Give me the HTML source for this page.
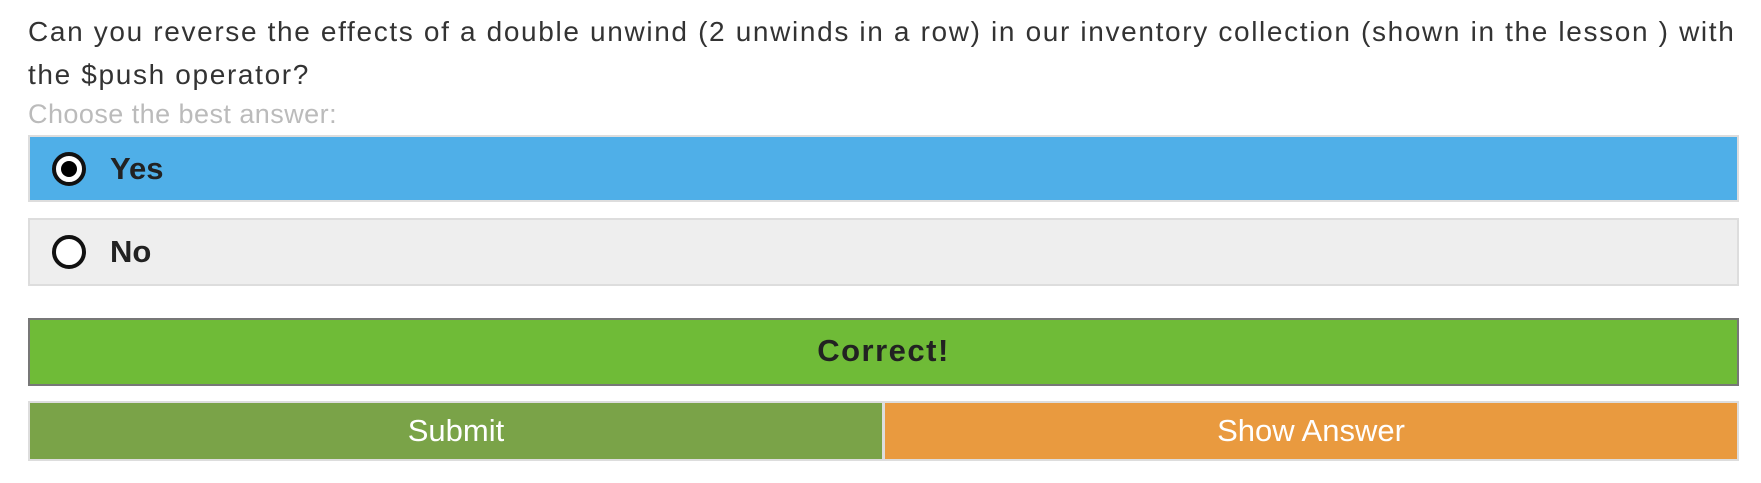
<!DOCTYPE html>
<html><head><meta charset="utf-8"><style>
body{margin:0;width:1761px;height:483px;background:#fff;font-family:"Liberation Sans",sans-serif;overflow:hidden;position:relative}
.q{position:absolute;left:28px;top:10px;width:1714px;font-size:28px;letter-spacing:1.65px;line-height:43px;color:#333}
.hint{position:absolute;left:28px;top:99px;font-size:27px;letter-spacing:0.45px;color:#bbb}
.opt{position:absolute;left:28px;width:1711px;box-sizing:border-box;border:2px solid #ddd;font-weight:bold;font-size:31px;color:#222}
.radio{position:absolute;left:22px;top:50%;width:26px;height:26px;margin-top:-17px;border:4px solid #111;border-radius:50%;background:#fff}
.radio.on::after{content:"";position:absolute;left:5px;top:5px;width:16px;height:16px;border-radius:50%;background:#000}
.lbl{position:absolute;left:80px;top:50%;transform:translateY(-50%)}
.btn{position:absolute;color:#fff;font-size:31px;text-align:center;box-sizing:border-box}
</style></head><body>
<div class="q">Can you reverse the effects of a double unwind (2 unwinds in a row) in our inventory collection (shown in the lesson ) with the $push operator?</div>
<div class="hint">Choose the best answer:</div>
<div class="opt" style="top:135px;height:67px;background:#4fafe8"><div class="radio on"></div><span class="lbl">Yes</span></div>
<div class="opt" style="top:218px;height:68px;background:#eee"><div class="radio"></div><span class="lbl">No</span></div>
<div class="opt" style="top:318px;height:68px;background:#6fbb37;border-color:#777;text-align:center;line-height:62px;letter-spacing:1.5px">Correct!</div>
<div style="position:absolute;left:28px;top:401px;width:1711px;height:60px;background:#ddd"></div>
<div class="btn" style="left:30px;top:403px;width:852px;height:56px;line-height:56px;background:#7aa348">Submit</div>
<div class="btn" style="left:885px;top:403px;width:852px;height:56px;line-height:56px;background:#e99a3f">Show Answer</div>
</body></html>
